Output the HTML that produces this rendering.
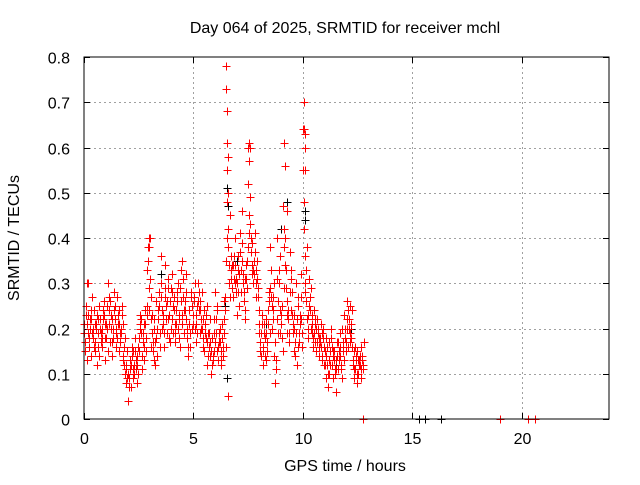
<!DOCTYPE html>
<html><head><meta charset="utf-8"><style>
body{margin:0;background:#fff}
svg text{font-family:"Liberation Sans",sans-serif;font-size:16px;fill:#000}
</style></head><body>
<svg id="chart" width="640" height="480" xmlns="http://www.w3.org/2000/svg">
<rect width="640" height="480" fill="#fff"/>
<g id="grid"></g>
<g id="ticks"></g>
<g id="marks"></g>
<rect x="84" y="57" width="525" height="362" fill="none" stroke="#000" stroke-width="1"/>
<text x="345" y="33" text-anchor="middle">Day 064 of 2025, SRMTID for receiver mchl</text>
<text x="345" y="471" text-anchor="middle">GPS time / hours</text>
<text transform="translate(19,238) rotate(-90)" text-anchor="middle">SRMTID / TECUs</text>
</svg>
<script>
const xTicks=[0,5,10,15,20];
const yTicks=[0,0.1,0.2,0.3,0.4,0.5,0.6,0.7,0.8];
const yTickLabels=["0","0.1","0.2","0.3","0.4","0.5","0.6","0.7","0.8"];
const times=[0.0,0.1,0.2,0.3,0.4,0.5,0.6,0.7,0.8,0.9,1.0,1.1,1.2,1.3,1.4,1.5,1.6,1.7,1.8,1.9,2.0,2.1,2.2,2.3,2.4,2.5,2.6,2.7,2.8,2.9,3.0,3.1,3.2,3.3,3.4,3.5,3.6,3.7,3.8,3.9,4.0,4.1,4.2,4.3,4.4,4.5,4.6,4.7,4.8,4.9,5.0,5.1,5.2,5.3,5.4,5.5,5.6,5.7,5.8,5.9,6.0,6.1,6.2,6.3,6.4,6.5,6.6,6.7,6.8,6.9,7.0,7.1,7.2,7.3,7.4,7.5,7.6,7.7,7.8,7.9,8.0,8.1,8.2,8.3,8.4,8.5,8.6,8.7,8.8,8.9,9.0,9.1,9.2,9.3,9.4,9.5,9.6,9.7,9.8,9.9,10.0,10.1,10.2,10.3,10.4,10.5,10.6,10.7,10.8,10.9,11.0,11.1,11.2,11.3,11.4,11.5,11.6,11.7,11.8,11.9,12.0,12.1,12.2,12.3,12.4,12.5,12.6,12.7];
const srmtidA=[.21,.25,.30,.22,.18,.15,.12,.14,.20,.23,.18,.30,.26,.22,.25,.27,.24,.19,.13,.08,.04,.11,.14,.10,.08,.15,.22,.19,.21,.33,.40,.23,.20,.18,.22,.36,.21,.34,.26,.23,.32,.27,.24,.20,.29,.35,.26,.18,.24,.28,.23,.21,.30,.26,.20,.15,.25,.16,.10,.14,.28,.24,.20,.18,.22,.35,.38,.36,.27,.34,.30,.32,.46,.26,.34,.60,.43,.39,.41,.35,.21,.19,.16,.13,.24,.38,.20,.14,.22,.30,.21,.47,.40,.26,.37,.28,.23,.19,.25,.32,.64,.30,.22,.31,.19,.24,.15,.20,.18,.14,.12,.16,.10,.18,.09,.13,.11,.14,.20,.23,.26,.22,.18,.13,.11,.15,.12,.14];
const srmtidB=[.17,.13,.16,.14,.24,.20,.19,.22,.16,.13,.25,.21,.20,.18,.19,.21,.17,.23,.16,.12,.09,.07,.09,.18,.12,.20,.11,.13,.15,.38,.22,.17,.12,.14,.28,.30,.16,.25,.31,.17,.22,.21,.26,.18,.33,.27,.22,.14,.16,.20,.26,.17,.24,.22,.16,.21,.12,.14,.18,.22,.19,.13,.15,.14,.27,.48,.30,.33,.31,.28,.36,.41,.35,.31,.29,.45,.37,.30,.33,.29,.17,.23,.21,.22,.28,.33,.27,.08,.40,.36,.25,.42,.29,.22,.31,.19,.14,.12,.17,.22,.48,.26,.18,.27,.23,.17,.22,.14,.21,.20,.18,.07,.15,.12,.15,.06,.15,.12,.16,.18,.20,.25,.24,.09,.14,.10,.16,.11];
const srmtidC=[.23,.19,.22,.27,.21,.23,.25,.17,.24,.21,.15,.17,.14,.28,.16,.15,.20,.14,.10,.15,.13,.16,.12,.13,.16,.23,.17,.24,.25,.29,.16,.13,.26,.24,.16,.20,.27,.19,.18,.29,.19,.17,.30,.16,.23,.19,.32,.21,.27,.23,.30,.25,.19,.28,.24,.18,.19,.22,.13,.17,.15,.17,.12,.26,.16,.05,.45,.29,.40,.23,.25,.28,.30,.22,.38,.49,.32,.35,.27,.24,.14,.12,.18,.17,.19,.25,.30,.11,.26,.19,.15,.34,.19,.17,.24,.15,.30,.27,.21,.16,.36,.38,.25,.20,.16,.21,.19,.17,.13,.16,.09,.13,.20,.14,.11,.17,.19,.09,.13,.15,.16,.17,.12,.16,.08,.12,.09,.17];
const srmtidD=[.19,.21,.18,.24,.20,.17,.22,.20,.18,.26,.21,.24,.23,.20,.22,.18,.21,.25,.12,.11,.10,.13,.11,.15,.14,.18,.19,.21,.18,.35,.31,.19,.22,.20,.25,.27,.23,.29,.22,.26,.28,.24,.21,.23,.26,.31,.24,.20,.21,.25,.27,.23,.26,.24,.22,.19,.17,.19,.15,.19,.22,.16,.17,.21,.19,.40,.34,.31,.34,.30,.33,.37,.39,.28,.31,.52,.40,.33,.37,.31,.19,.21,.19,.19,.21,.29,.24,.17,.31,.33,.23,.38,.33,.24,.28,.23,.20,.22,.19,.27,.55,.28,.20,.24,.21,.19,.20,.18,.16,.18,.15,.12,.17,.16,.13,.11,.17,.16,.17,.20,.22,.20,.21,.15,.13,.13,.14,.13];
const srmtidE=[.15,.23,.20,.19,.16,.21,.16,.19,.22,.18,.20,.27,.17,.24,.20,.23,.19,.21,.18,.09,.07,.12,.15,.11,.10,.21,.14,.16,.23,.24,.27,.15,.17,.22,.19,.24,.19,.22,.29,.20,.25,.19,.28,.22,.21,.24,.28,.16,.19,.21,.20,.19,.28,.20,.18,.23,.14,.17,.12,.15,.25,.19,.13,.16,.24,.42,.27,.34,.36,.31,.28,.33,.32,.24,.35,.41,.34,.32,.30,.27,.15,.15,.14,.15,.26,.27,.22,.13,.19,.24,.18,.29,.23,.19,.33,.21,.17,.16,.23,.19,.42,.33,.23,.29,.18,.22,.17,.16,.19,.12,.14,.10,.12,.15,.10,.14,.13,.11,.15,.17,.24,.19,.16,.11,.10,.13,.11,.12];
const spikeTimes=[6.5,6.5,6.52,6.55,6.55,6.6,6.6,7.55,7.6,7.55,9.15,9.2,9.3,10.05,10.05,10.08,10.1,10.1,2.95,2.95,0.15,12.75,19.0,20.3,20.6];
const spikeValues=[.78,.73,.68,.61,.55,.58,.50,.61,.60,.57,.61,.56,.46,.70,.64,.63,.60,.55,.40,.38,.30,0,0,0,0];
const blackTimes=[6.55,6.55,6.6,10.1,10.1,9.3,15.3,15.6,16.3,7.0,3.5,9.0,11.5,12.2,6.45,8.3];
const blackValues=[.09,.51,.47,.46,.44,.48,0,0,0,.35,.32,.42,.12,.20,.25,.21];

const X0=84,X1=609,Y0=419,Y1=57;
function xs(t){return X0+(t/24)*(X1-X0);}
function ys(v){return Y0-(v/0.8)*(Y0-Y1);}
const NS="http://www.w3.org/2000/svg";
const grid=document.getElementById('grid'),tk=document.getElementById('ticks'),mk=document.getElementById('marks');
function line(p,x1,y1,x2,y2,st,dash){const l=document.createElementNS(NS,'line');l.setAttribute('x1',x1);l.setAttribute('y1',y1);l.setAttribute('x2',x2);l.setAttribute('y2',y2);l.setAttribute('stroke',st);l.setAttribute('stroke-width',1);if(dash)l.setAttribute('stroke-dasharray',dash);p.appendChild(l);return l;}
function txt(p,x,y,s,anchor){const t=document.createElementNS(NS,'text');t.setAttribute('x',x);t.setAttribute('y',y);t.setAttribute('text-anchor',anchor);t.textContent=s;p.appendChild(t);return t;}
xTicks.forEach(v=>{const x=Math.round(xs(v))+0.5;
 if(v>0){const g=line(grid,x,Y1,x,Y0,'#a0a0a0','2,3');
 
 }
 line(tk,x,Y0,x,Y0-6,'#000');line(tk,x,Y1,x,Y1+6,'#000');
 const t=txt(tk,x,Y0+25,String(v),'middle');
 
 });
yTicks.forEach((v,i)=>{const y=Math.round(ys(v))+0.5;
 if(v>0&&v<0.8){const g=line(grid,X0,y,X1,y,'#a0a0a0','2,3');
 
 }
 line(tk,X0,y,X0+6,y,'#000');line(tk,X1,y,X1-6,y,'#000');
 const t=txt(tk,X0-14,y+6,yTickLabels[i],'end');
 
 });
function plus(t,v,col,name){const x=Math.round(xs(t))+0.5,y=Math.round(ys(v))+0.5;
 const g=document.createElementNS(NS,'path');
 g.setAttribute('d',`M${x-4} ${y}H${x+4}M${x} ${y-4}V${y+4}`);
 g.setAttribute('stroke',col);g.setAttribute('stroke-width',1);g.setAttribute('fill','none');
 
 
 mk.appendChild(g);}
blackTimes.forEach((t,i)=>plus(t,blackValues[i],'#000','black-point'));
times.forEach((t,i)=>{
 plus(t,srmtidA[i],'#f00','red-point');
 plus(t+0.02,srmtidD[i],'#f00','red-point');
 plus(t+0.04,srmtidB[i],'#f00','red-point');
 plus(t+0.06,srmtidE[i],'#f00','red-point');
 plus(t+0.08,srmtidC[i],'#f00','red-point');});
spikeTimes.forEach((t,i)=>plus(t,spikeValues[i],'#f00','red-point'));
</script>
</body></html>
